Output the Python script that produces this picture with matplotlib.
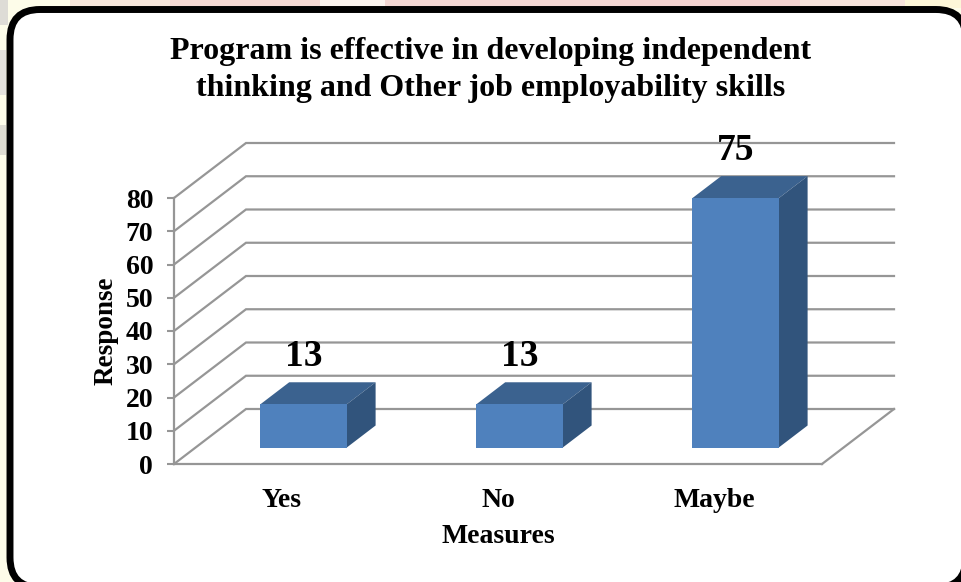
import matplotlib.pyplot as plt
from matplotlib.patches import FancyBboxPatch, Polygon, Rectangle

W, H = 961, 582

categories = ["Yes", "No", "Maybe"]
values = [13, 13, 75]
y_ticks = [0, 10, 20, 30, 40, 50, 60, 70, 80]

title = "Program is effective in developing independent\nthinking and Other job employability skills"

plt.rcParams['font.family'] = ['Liberation Serif', 'DejaVu Serif']
plt.rcParams['font.weight'] = 'bold'

# depth of the 3d box, in data units
depth_x = 72 / 216
depth_y = 55 / 3.325
bar_width = 0.4
bar_start = 0.3  # how far into the depth the bar starts
bar_depth = 0.4

GRID = '#969696'
FRONT = '#4f81bd'
TOP = '#3b628f'
SIDE = '#31547c'

fig = plt.figure(figsize=(W / 100, H / 100), dpi=100, facecolor='#fdfce9')

# background page + rounded frame, in pixel coords
bg = fig.add_axes([0, 0, 1, 1])
bg.set_xlim(0, W)
bg.set_ylim(H, 0)
bg.axis('off')
for x0, x1, col in [(70, 170, '#f6e6da'), (170, 320, '#f3d8d2'), (320, 385, '#fbf3ee'),
                    (385, 620, '#f2d6d2'), (620, 800, '#f3d3d0'), (800, 905, '#f7e4dc'),
                    (905, 961, '#fdf6d8')]:
    bg.add_patch(Rectangle((x0, 0), x1 - x0, 8, color=col, lw=0))
bg.add_patch(Rectangle((0, 0), 8, 25, color='#dedcd6', lw=0))
bg.add_patch(Rectangle((0, 50), 6, 45, color='#e4e2de', lw=0))
bg.add_patch(Rectangle((0, 125), 6, 30, color='#dedcd2', lw=0))
bg.add_patch(FancyBboxPatch((10, 9.5), 956, 578, boxstyle="round,pad=0,rounding_size=30",
                            fc='white', ec='black', lw=5))

# axes sit on the front plane of the 3d box
ax = fig.add_axes([174 / W, 1 - 464 / H, 648 / W, 266 / H])
ax.set_xlim(0, 3)
ax.set_ylim(0, 80)
ax.patch.set_alpha(0)
for s in ax.spines.values():
    s.set_visible(False)
ax.spines['left'].set_visible(True)
ax.spines['left'].set_color(GRID)
ax.spines['left'].set_linewidth(1.6)
ax.spines['bottom'].set_visible(True)
ax.spines['bottom'].set_color(GRID)
ax.spines['bottom'].set_linewidth(1.6)

ax.set_yticks(y_ticks)
ax.set_yticklabels([str(t) for t in y_ticks], fontsize=20, fontweight='bold')
ax.tick_params(axis='y', length=5, width=1.5, color=GRID, pad=10)
ax.set_xticks([i + 0.5 for i in range(3)])
ax.set_xticklabels(categories, fontsize=20, fontweight='bold')
ax.tick_params(axis='x', length=0, pad=17)
ax.set_xlabel("Measures", fontsize=20, fontweight='bold', labelpad=8)
ax.set_ylabel("Response", fontsize=19.5, fontweight='bold', labelpad=5)

# wall gridlines and floor
for t in y_ticks:
    ax.plot([0, depth_x, 3 + depth_x], [t, t + depth_y, t + depth_y], color=GRID, lw=1.6,
            clip_on=False, solid_joinstyle='miter', zorder=1)
ax.plot([3, 3 + depth_x], [0, depth_y], color=GRID, lw=1.6, clip_on=False, zorder=1)

# bars
for i, v in enumerate(values):
    x0 = i + 0.5 - bar_width / 2 + bar_start * depth_x
    x1 = x0 + bar_width
    y0 = bar_start * depth_y
    y1 = y0 + v
    dx = bar_depth * depth_x
    dy = bar_depth * depth_y
    ax.add_patch(Polygon([(x0, y1), (x1, y1), (x1 + dx, y1 + dy), (x0 + dx, y1 + dy)],
                         fc=TOP, lw=0, clip_on=False, zorder=3))
    ax.add_patch(Polygon([(x1, y0), (x1 + dx, y0 + dy), (x1 + dx, y1 + dy), (x1, y1)],
                         fc=SIDE, lw=0, clip_on=False, zorder=3))
    ax.add_patch(Rectangle((x0, y0), bar_width, v, fc=FRONT, lw=0, clip_on=False, zorder=4))
    ax.text(x0 + bar_width / 2, y1 + dy + 2.5, str(v), ha='center', va='bottom',
            fontsize=27, fontweight='bold', clip_on=False, zorder=5)

fig.text(491 / W, 1 - 70 / H, title, ha='center', va='center', fontsize=23,
         fontweight='bold', linespacing=1.33)

fig.savefig('out.png', dpi=100, facecolor=fig.get_facecolor())
plt.close()
